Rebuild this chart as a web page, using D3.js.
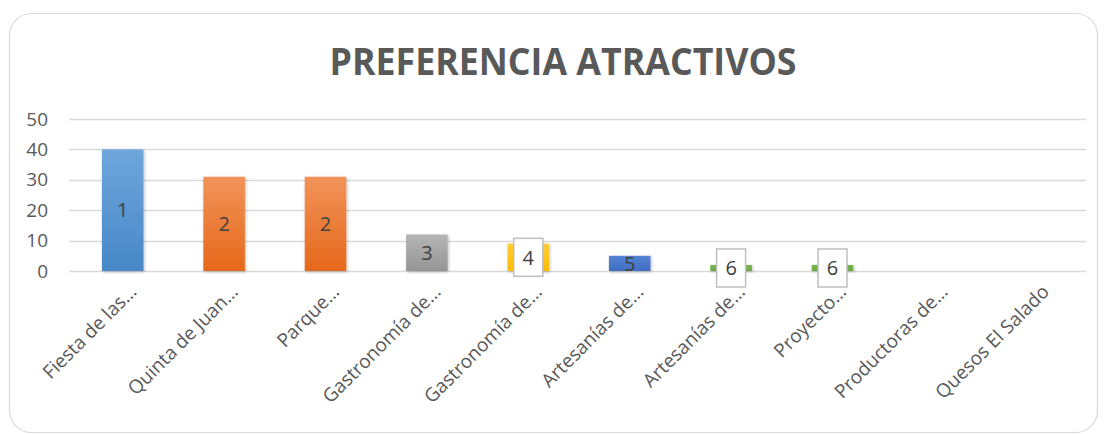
<!DOCTYPE html>
<html>
<head>
<meta charset="utf-8">
<script src="https://cdn.jsdelivr.net/npm/d3@7"></script>
<style>
  html, body { margin: 0; padding: 0; background: #fff; }
  svg { display: block; font-family: "Open Sans", "Noto Sans", sans-serif; }
</style>
</head>
<body>
<div id="chart"></div>
<script>
// Datos del gráfico
const categories = ["Fiesta de las…", "Quinta de Juan…", "Parque…", "Gastronomía de…", "Gastronomía de…",
                    "Artesanías de…", "Artesanías de…", "Proyecto…", "Productoras de…", "Quesos El Salado"];
const values = [40, 31, 31, 12, 9, 5, 2, 2, 0, 0];
const ranks = ["1", "2", "2", "3", "4", "5", "6", "6", null, null];
const boxedLabels = [false, false, false, false, true, false, true, true, false, false];
const yTicks = [0, 10, 20, 30, 40, 50];
const title = "PREFERENCIA ATRACTIVOS";

// Colores (tipo Office, con degradado)
const palette = {
    blue: ["#6FA6DC", "#4787C7"],
    orange: ["#F2935A", "#E5681A"],
    gray: ["#B5B5B5", "#959595"],
    yellow: ["#FFCC3A", "#F9BC00"],
    darkblue: ["#5484D4", "#3F6EC2"],
    green: ["#7AB552", "#6AA843"]
};
const barColors = ["blue", "orange", "orange", "gray", "yellow", "darkblue", "green", "green", "green", "green"];

const width = 1104, height = 434;

const svg = d3.select("#chart").append("svg")
    .attr("width", width)
    .attr("height", height);

const defs = svg.append("defs");
Object.entries(palette).forEach(([name, [top, bottom]]) => {
    const g = defs.append("linearGradient")
        .attr("id", `grad-${name}`)
        .attr("x1", 0).attr("y1", 0).attr("x2", 0).attr("y2", 1);
    g.append("stop").attr("offset", "0%").attr("stop-color", top);
    g.append("stop").attr("offset", "100%").attr("stop-color", bottom);
});
defs.append("filter").attr("id", "shadow")
    .attr("x", "-20%").attr("y", "-20%").attr("width", "150%").attr("height", "150%")
    .append("feDropShadow")
    .attr("dx", 1).attr("dy", 1).attr("stdDeviation", 1.5)
    .attr("flood-color", "#000").attr("flood-opacity", 0.25);

// Marco
svg.append("rect")
    .attr("x", 9.5).attr("y", 13.5)
    .attr("width", 1088).attr("height", 419)
    .attr("rx", 22)
    .attr("fill", "#fff")
    .attr("stroke", "#d9d9d9")
    .attr("stroke-width", 1.2);

// Título
svg.append("text")
    .attr("x", 563).attr("y", 75)
    .attr("text-anchor", "middle")
    .attr("font-size", 38)
    .attr("font-weight", "bold")
    .attr("fill", "#595959")
    .attr("textLength", 467)
    .attr("lengthAdjust", "spacingAndGlyphs")
    .text(title);

// Escalas
const y = d3.scaleLinear().domain([0, 50]).range([271, 119]);
const x = d3.scaleBand()
    .domain(d3.range(categories.length))
    .range([72, 1086])
    .paddingInner(0.59)
    .paddingOuter(0.295);

// Rejilla
const gridLeft = 69, gridRight = 1086;
svg.append("g").attr("class", "grid")
    .selectAll("line")
    .data(yTicks)
    .join("line")
    .attr("x1", gridLeft).attr("x2", gridRight)
    .attr("y1", d => Math.round(y(d)) + 0.5)
    .attr("y2", d => Math.round(y(d)) + 0.5)
    .attr("stroke", "#d9d9d9")
    .attr("stroke-width", d => d === 0 ? 1.6 : 1.3);

// Eje Y
const yAxis = svg.append("g")
    .attr("transform", `translate(48,0)`)
    .call(d3.axisLeft(y).tickValues(yTicks).tickSize(0).tickPadding(0));
yAxis.select(".domain").remove();
yAxis.selectAll("text")
    .attr("font-size", 19)
    .attr("font-family", "Open Sans")
    .attr("fill", "#595959");

// Barras
svg.append("g").attr("class", "bars")
    .selectAll("rect")
    .data(values.map((v, i) => ({ v, i })).filter(d => d.v > 0))
    .join("rect")
    .attr("x", d => x(d.i))
    .attr("width", x.bandwidth())
    .attr("y", d => y(d.v))
    .attr("height", d => y(0) - y(d.v))
    .attr("fill", d => `url(#grad-${barColors[d.i]})`)
    .attr("filter", "url(#shadow)");

// Etiquetas de datos
const labels = svg.append("g").attr("class", "labels")
    .selectAll("g")
    .data(values.map((v, i) => ({ v, i, r: ranks[i], boxed: boxedLabels[i] })).filter(d => d.r !== null))
    .join("g")
    .attr("transform", d => `translate(${x(d.i) + x.bandwidth() / 2},${(y(d.v) + y(0)) / 2})`);

labels.filter(d => d.boxed).append("rect")
    .attr("x", -14.5).attr("y", -19)
    .attr("width", 29).attr("height", 38)
    .attr("fill", "#fff")
    .attr("stroke", "#bfbfbf")
    .attr("stroke-width", 1.5);

labels.append("text")
    .attr("text-anchor", "middle")
    .attr("dy", "0.36em")
    .attr("font-size", 20)
    .attr("fill", "#404040")
    .text(d => d.r);

// Eje X (etiquetas giradas)
const xAxis = svg.append("g")
    .attr("transform", `translate(0,${y(0)})`)
    .call(d3.axisBottom(x).tickSize(0).tickFormat(i => categories[i]));
xAxis.select(".domain").remove();
xAxis.selectAll("text")
    .attr("font-size", 19)
    .attr("font-family", "Open Sans")
    .attr("fill", "#595959")
    .attr("text-anchor", "end")
    .attr("x", 0).attr("y", 0).attr("dy", 0)
    .attr("transform", `translate(15,22) rotate(-45)`);
</script>
</body>
</html>
